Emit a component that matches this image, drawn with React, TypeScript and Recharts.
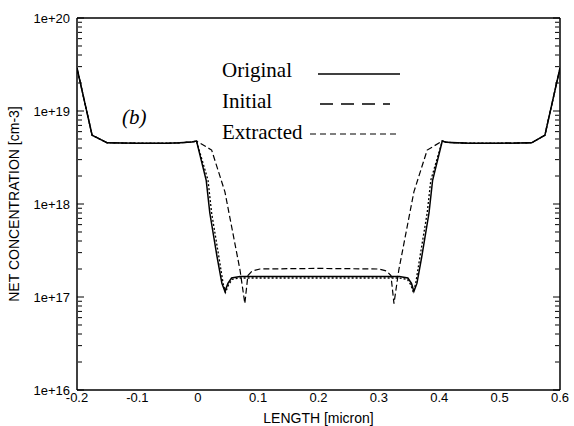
import React from 'react';
import { LineChart, Line, XAxis, YAxis, Legend } from 'recharts';

const X_TICKS = [-0.2, -0.1, 0, 0.1, 0.2, 0.3, 0.4, 0.5, 0.6];
const Y_TICKS = [1e16, 1e17, 1e18, 1e19, 1e20];

// plateaus at both ends, shared by all three profiles
const EDGE_LEFT_X = [-0.2, -0.175, -0.15, -0.1, -0.05, -0.03, -0.01, -0.002];
const EDGE_LEFT_Y = [2.9e19, 5.5e18, 4.55e18, 4.5e18, 4.5e18, 4.55e18, 4.65e18, 4.75e18];
const EDGE_RIGHT_X = [0.405, 0.412, 0.43, 0.45, 0.5, 0.553, 0.575, 0.6];
const EDGE_RIGHT_Y = [4.75e18, 4.6e18, 4.55e18, 4.5e18, 4.5e18, 4.55e18, 5.5e18, 2.9e19];

// channel region
const ORIGINAL_X = [0.014, 0.02, 0.032, 0.04, 0.045, 0.05, 0.056, 0.07, 0.2, 0.334, 0.348, 0.354, 0.358, 0.363, 0.371, 0.383, 0.389];
const ORIGINAL_Y = [1.8e18, 8e17, 2.7e17, 1.4e17, 1.15e17, 1.4e17, 1.6e17, 1.66e17, 1.66e17, 1.66e17, 1.6e17, 1.4e17, 1.15e17, 1.4e17, 2.7e17, 8e17, 1.8e18];

const INITIAL_X = [0.023, 0.045, 0.07, 0.078, 0.083, 0.09, 0.103, 0.2, 0.3, 0.313, 0.32, 0.325, 0.333, 0.358, 0.38];
const INITIAL_Y = [3.8e18, 1.35e18, 1.95e17, 8.5e16, 1.7e17, 1.9e17, 2.0e17, 2.03e17, 2.0e17, 1.9e17, 1.7e17, 8.5e16, 1.95e17, 1.35e18, 3.8e18];

const EXTRACTED_X = [0.017, 0.023, 0.035, 0.042, 0.046, 0.051, 0.057, 0.07, 0.2, 0.333, 0.347, 0.353, 0.357, 0.361, 0.368, 0.38, 0.386];
const EXTRACTED_Y = [1.8e18, 8e17, 2.7e17, 1.4e17, 1.12e17, 1.35e17, 1.55e17, 1.6e17, 1.6e17, 1.6e17, 1.55e17, 1.35e17, 1.12e17, 1.4e17, 2.7e17, 8e17, 1.8e18];

const SERIES_NAMES = ['Original', 'Initial', 'Extracted'];

const toPoints = (xs: number[], ys: number[]) => xs.map((x, i) => ({ x, y: ys[i] }));
const withEdges = (xs: number[], ys: number[]) => [
  ...toPoints(EDGE_LEFT_X, EDGE_LEFT_Y),
  ...toPoints(xs, ys),
  ...toPoints(EDGE_RIGHT_X, EDGE_RIGHT_Y),
];

const originalData = withEdges(ORIGINAL_X, ORIGINAL_Y);
const initialData = withEdges(INITIAL_X, INITIAL_Y);
const extractedData = withEdges(EXTRACTED_X, EXTRACTED_Y);

const MINOR_Y: number[] = [];
for (let d = 16; d < 20; d++) {
  for (let m = 2; m <= 9; m++) MINOR_Y.push(m * Math.pow(10, d));
}

const SANS = 'Liberation Sans, Arial, Helvetica, sans-serif';
const SERIF = 'Liberation Serif, Times New Roman, serif';
const tickStyle = { fill: '#000', fontSize: 13, fontFamily: SANS };
const Y_DOMAIN: [number, number] = [1e16, 1e20];
const X_DOMAIN: [number, number] = [-0.2, 0.6];
const frame = { stroke: '#000', strokeWidth: 1.5 };
const tickMark = { stroke: '#000', strokeWidth: 1 };
// tick marks only, no label
const NoLabel = () => <g />;

// legend swatches: line start/end inside the legend box
const LEGEND_LINES: Record<string, { x1: number; x2: number; dash?: string; w: number }> = {
  Original: { x1: 103, x2: 185, w: 1.6 },
  Initial: { x1: 105, x2: 175, dash: '13 8', w: 1.4 },
  Extracted: { x1: 95, x2: 185, dash: '6 4', w: 1.2 },
};

const renderLegend = (props: any) => {
  const payload = [...(props.payload || [])].sort(
    (a: any, b: any) => SERIES_NAMES.indexOf(a.value) - SERIES_NAMES.indexOf(b.value)
  );
  return (
    <svg width={200} height={100}>
      {payload.map((entry: any, i: number) => {
        const l = LEGEND_LINES[entry.value];
        const base = 27 + i * 31;
        return (
          <g key={entry.value}>
            <text x={7} y={base} fontFamily={SERIF} fontSize={21} fill="#000">
              {entry.value}
            </text>
            {l && (
              <line
                x1={l.x1}
                x2={l.x2}
                y1={base - 3 - i}
                y2={base - 3 - i}
                stroke="#000"
                strokeWidth={l.w}
                strokeDasharray={l.dash}
              />
            )}
          </g>
        );
      })}
    </svg>
  );
};

export default function App() {
  return (
    <div style={{ position: 'absolute', left: 0, top: 0, width: 574, height: 426, background: '#fff' }}>
      <LineChart width={574} height={426} margin={{ top: 18, right: 14, left: 0, bottom: 0 }}>
        <XAxis
          xAxisId="main"
          type="number"
          dataKey="x"
          domain={X_DOMAIN}
          ticks={X_TICKS}
          interval={0}
          allowDataOverflow
          height={36}
          tickSize={0}
          tickMargin={3}
          tickLine={false}
          axisLine={frame}
          tick={tickStyle}
          label={{ value: 'LENGTH [micron]', position: 'insideBottom', offset: 3, fill: '#000', fontSize: 14, fontFamily: SANS }}
        />
        <XAxis xAxisId="bt" type="number" orientation="bottom" mirror height={1} domain={X_DOMAIN} ticks={X_TICKS} interval={0} allowDataOverflow tickSize={5} tick={NoLabel} axisLine={false} tickLine={tickMark} />
        <XAxis xAxisId="top" type="number" orientation="top" mirror height={1} domain={X_DOMAIN} ticks={X_TICKS} interval={0} allowDataOverflow tickSize={5} tick={NoLabel} axisLine={frame} tickLine={tickMark} />
        <YAxis
          yAxisId="main"
          scale="log"
          type="number"
          domain={Y_DOMAIN}
          ticks={Y_TICKS}
          interval={0}
          allowDataOverflow
          width={77}
          tickSize={0}
          tickMargin={7}
          tickLine={false}
          axisLine={frame}
          tick={tickStyle}
          tickFormatter={(v: number) => `1e+${Math.round(Math.log10(v))}`}
          label={{ value: 'NET CONCENTRATION [cm-3]', angle: -90, position: 'insideLeft', offset: 14, fill: '#000', fontSize: 14, fontFamily: SANS, style: { textAnchor: 'middle' } }}
        />
        <YAxis yAxisId="lmaj" scale="log" type="number" mirror width={1} domain={Y_DOMAIN} ticks={Y_TICKS} interval={0} allowDataOverflow tickSize={7} tick={NoLabel} axisLine={false} tickLine={tickMark} />
        <YAxis yAxisId="lmin" scale="log" type="number" mirror width={1} domain={Y_DOMAIN} ticks={MINOR_Y} interval={0} allowDataOverflow tickSize={4} tick={NoLabel} axisLine={false} tickLine={tickMark} />
        <YAxis yAxisId="rmaj" orientation="right" scale="log" type="number" mirror width={1} domain={Y_DOMAIN} ticks={Y_TICKS} interval={0} allowDataOverflow tickSize={7} tick={NoLabel} axisLine={frame} tickLine={tickMark} />
        <YAxis yAxisId="rmin" orientation="right" scale="log" type="number" mirror width={1} domain={Y_DOMAIN} ticks={MINOR_Y} interval={0} allowDataOverflow tickSize={4} tick={NoLabel} axisLine={false} tickLine={tickMark} />
        <Legend
          layout="vertical"
          align="center"
          verticalAlign="middle"
          content={renderLegend}
          wrapperStyle={{ position: 'absolute', left: 215, top: 50, width: 200, height: 100 }}
        />
        <Line
          xAxisId="main"
          yAxisId="main"
          data={originalData}
          dataKey="y"
          name={SERIES_NAMES[0]}
          type="linear"
          stroke="#000"
          strokeWidth={1.5}
          dot={false}
          isAnimationActive={false}
        />
        <Line
          xAxisId="main"
          yAxisId="main"
          data={initialData}
          dataKey="y"
          name={SERIES_NAMES[1]}
          type="linear"
          stroke="#000"
          strokeWidth={1.2}
          strokeDasharray="6 3"
          dot={false}
          isAnimationActive={false}
        />
        <Line
          xAxisId="main"
          yAxisId="main"
          data={extractedData}
          dataKey="y"
          name={SERIES_NAMES[2]}
          type="linear"
          stroke="#000"
          strokeWidth={1.3}
          strokeDasharray="2 2"
          dot={false}
          isAnimationActive={false}
        />
      </LineChart>
      <div style={{ position: 'absolute', left: 122, top: 105, fontFamily: SERIF, fontSize: 21, fontStyle: 'italic', lineHeight: '24px' }}>
        (b)
      </div>
    </div>
  );
}
